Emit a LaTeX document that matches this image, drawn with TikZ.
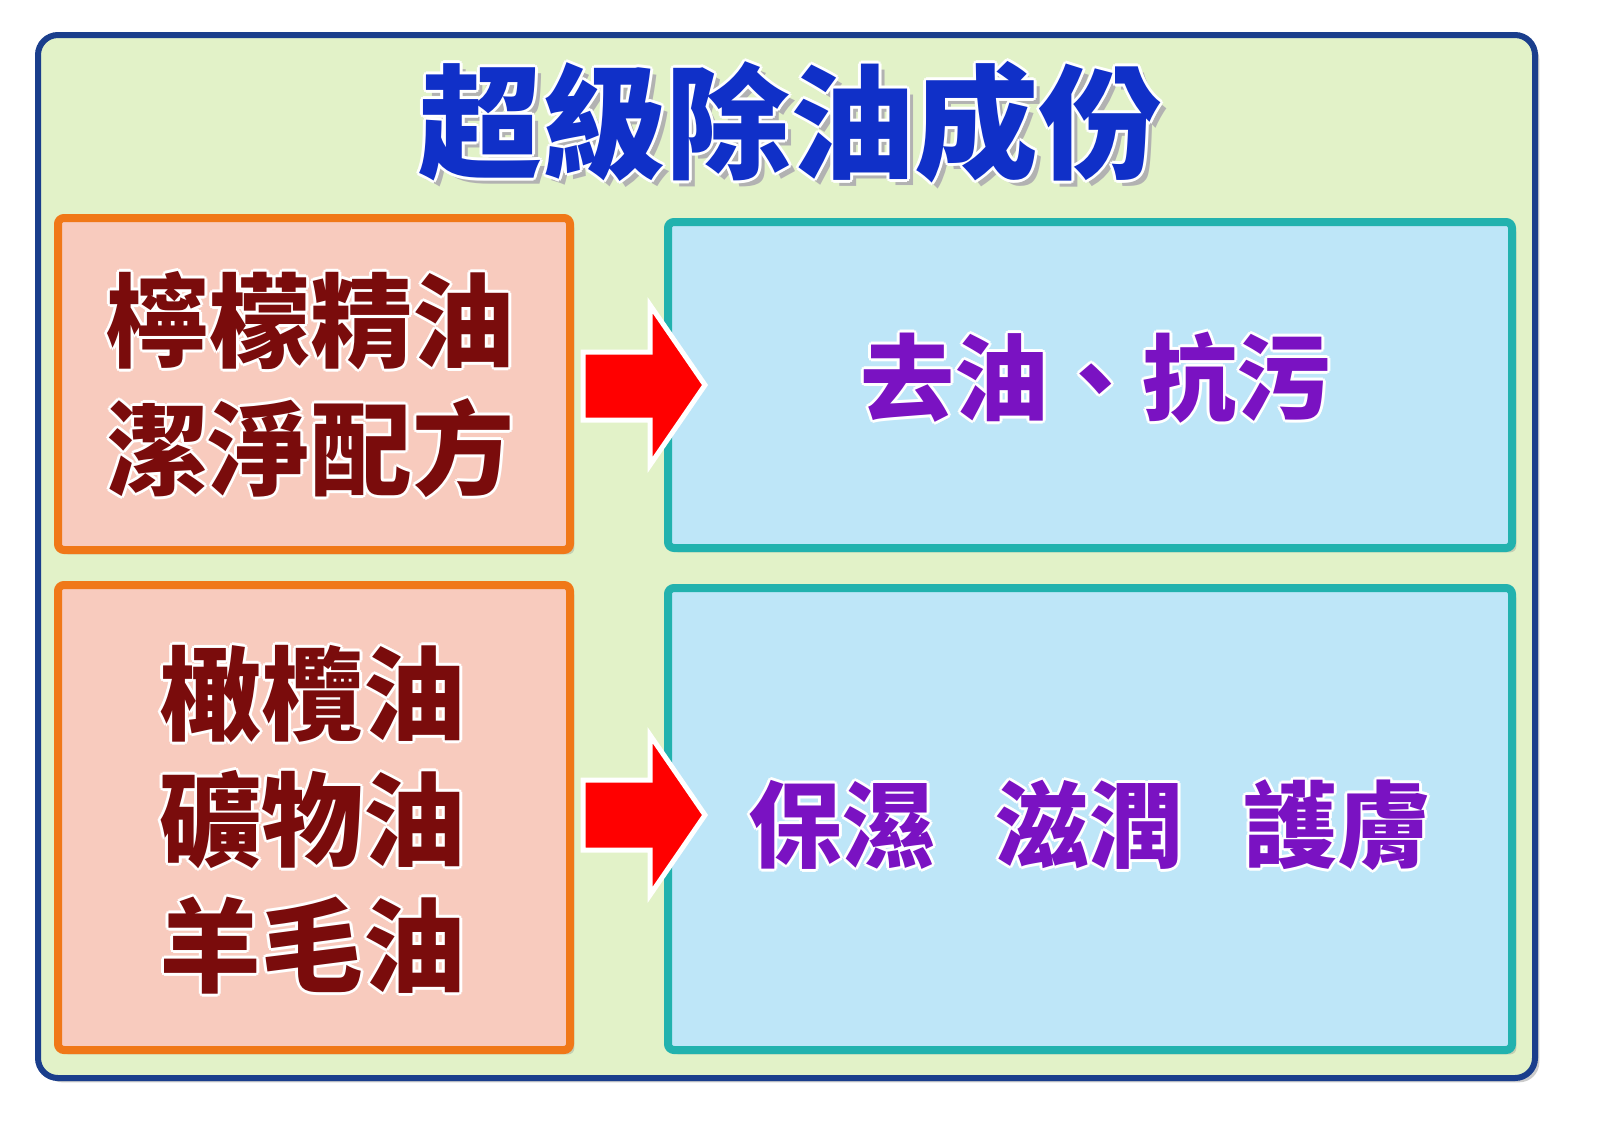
\documentclass[tikz,border=0pt]{standalone}
\usepackage{fontspec}
\newfontfamily\cjk{Noto Sans CJK TC}
\usetikzlibrary{shadows}
\definecolor{bgg}{HTML}{E2F2C8}
\definecolor{frameb}{HTML}{1A3E8C}
\definecolor{pinkf}{HTML}{F8CBBE}
\definecolor{orb}{HTML}{F07818}
\definecolor{bluef}{HTML}{BEE6F8}
\definecolor{tealb}{HTML}{22B2AE}
\definecolor{dred}{HTML}{7A0C0C}
\definecolor{purp}{HTML}{7A12C2}
\definecolor{titb}{HTML}{1030C8}
\newcommand{\otext}[5]{%
  \foreach \dx/\dy in {-3/0,3/0,0/-3,0/3,-2/-2,2/2,-2/2,2/-2}{
    \node[white,font=#3,align=center] at ([xshift=\dx*0.5pt,yshift=\dy*0.5pt]#1) {#5};}
  \node[#4,font=#3,align=center] (#2) at (#1) {#5};}
\begin{document}
\begin{tikzpicture}[x=0.5pt,y=-0.5pt]
\fill[white] (0,0) rectangle (1600,1132);
\node[draw=frameb,line width=3pt,fill=bgg,rounded corners=10pt,minimum width=748.5pt,minimum height=521.5pt,drop shadow={opacity=0.4}] (frame) at (786.5,556.5) {};
\tikzset{lbox/.style={draw=orb,line width=4pt,fill=pinkf,rounded corners=3pt,drop shadow={opacity=0.3}},
 rbox/.style={draw=tealb,line width=4pt,fill=bluef,rounded corners=3pt,drop shadow={opacity=0.3}},
 arr/.style={fill=red,draw=white,line width=2.5pt,line join=miter}}
\node[lbox,minimum width=256pt,minimum height=166pt] (l1) at (314,384) {};
\node[lbox,minimum width=256pt,minimum height=232.5pt] (l2) at (314,817.5) {};
\node[rbox,minimum width=422pt,minimum height=163pt] (r1) at (1090,385) {};
\node[rbox,minimum width=422pt,minimum height=231pt] (r2) at (1090,819) {};
\draw[arr] (583,352) -- (650,352) -- (650,305) -- (705,385) -- (650,465) -- (650,420) -- (583,420) -- cycle;
\draw[arr] (583,780) -- (650,780) -- (650,735) -- (705,815) -- (650,895) -- (650,850) -- (583,850) -- cycle;
\node[gray!60,font=\cjk\bfseries\fontsize{62}{70}\selectfont] at (796,128) {超級除油成份};
\otext{790,122}{title}{\cjk\bfseries\fontsize{62}{70}\selectfont}{titb}{超級除油成份}
\otext{310,385}{t1}{\cjk\bfseries\fontsize{51}{64}\selectfont}{dred}{檸檬精油\\潔淨配方}
\otext{312,820}{t2}{\cjk\bfseries\fontsize{51}{63}\selectfont}{dred}{橄欖油\\礦物油\\羊毛油}
\otext{1095,378}{t3}{\cjk\bfseries\fontsize{47}{56}\selectfont}{purp}{去油、抗污}
\otext{1090,825}{t4}{\cjk\bfseries\fontsize{47}{56}\selectfont}{purp}{保濕\hspace{30pt}滋潤\hspace{30pt}護膚}
\pgfresetboundingbox
\useasboundingbox (0,0) rectangle (1600,1132);
\end{tikzpicture}
\end{document}
